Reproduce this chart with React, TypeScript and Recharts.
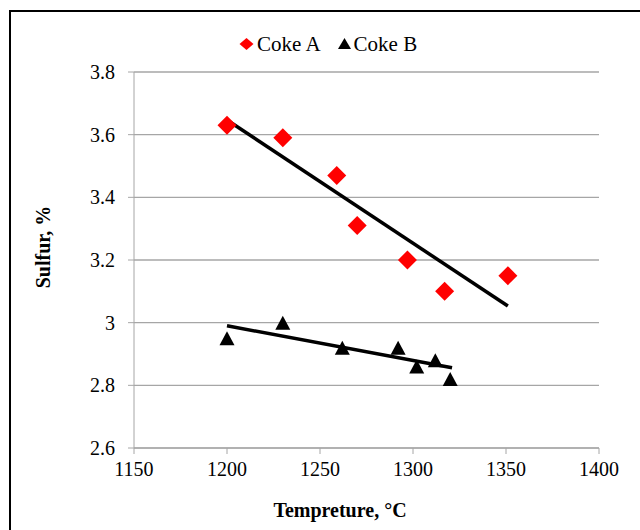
import { ScatterChart, Scatter, XAxis, YAxis, CartesianGrid } from "recharts"

// Coke A (red diamonds)
const cokeATemp = [1200, 1230, 1259, 1270, 1297, 1317, 1351]
const cokeASulfur = [3.63, 3.59, 3.47, 3.31, 3.2, 3.1, 3.15]

// Coke B (black triangles)
const cokeBTemp = [1200, 1230, 1262, 1292, 1302, 1312, 1320]
const cokeBSulfur = [2.95, 3.0, 2.92, 2.92, 2.86, 2.88, 2.82]

// trend line end points
const trendATemp = [1200, 1351]
const trendASulfur = [3.647, 3.053]
const trendBTemp = [1200, 1321]
const trendBSulfur = [2.99, 2.856]

const xTicks = [1150, 1200, 1250, 1300, 1350, 1400]
const yTicks = [2.6, 2.8, 3.0, 3.2, 3.4, 3.6, 3.8]

const toPoints = (xs: number[], ys: number[]) => xs.map((x, i) => ({ x, y: ys[i] }))

const cokeA = toPoints(cokeATemp, cokeASulfur)
const cokeB = toPoints(cokeBTemp, cokeBSulfur)
const trendA = toPoints(trendATemp, trendASulfur)
const trendB = toPoints(trendBTemp, trendBSulfur)

const font = '"Liberation Serif", "Times New Roman", serif'
const grid = "#a6a6a6"

const Diamond = (props: any) => {
  const { cx, cy } = props
  const r = 9.5
  return <polygon points={`${cx},${cy - r} ${cx + r},${cy} ${cx},${cy + r} ${cx - r},${cy}`} fill="#ff0000" />
}

const Triangle = (props: any) => {
  const { cx, cy } = props
  const w = 7.5
  const h = 7
  return <polygon points={`${cx},${cy - h} ${cx + w},${cy + h} ${cx - w},${cy + h}`} fill="#000" />
}

const NoDot = () => <g />

export default function App() {
  return (
    <div style={{ position: "fixed", left: 0, top: 0, width: 640, height: 530, overflow: "hidden", background: "#fff", fontFamily: font }}>
      <div
        style={{
          position: "absolute",
          left: 9,
          top: 10,
          width: 700,
          height: 600,
          borderLeft: "2px solid #000",
          borderTop: "2px solid #000",
        }}
      />
      <div style={{ position: "absolute", left: 0, top: 0 }}>
        <ScatterChart width={640} height={530} margin={{ top: 72, right: 41, bottom: 32, left: 34 }}>
          <CartesianGrid horizontal vertical={false} stroke={grid} strokeWidth={1.3} />
          <XAxis
            type="number"
            dataKey="x"
            domain={[1150, 1400]}
            ticks={xTicks}
            allowDataOverflow
            height={50}
            stroke={grid}
            tickSize={6}
            tickMargin={8}
            tick={{ fill: "#000", fontSize: 20, fontFamily: font }}
            label={{
              content: () => (
                <text x={340} y={517} textAnchor="middle" fontSize={20} fontWeight="bold" fontFamily={font} fill="#000">
                  Tempreture, °C
                </text>
              ),
            }}
          />
          <YAxis
            type="number"
            dataKey="y"
            domain={[2.6, 3.8]}
            ticks={yTicks}
            allowDataOverflow
            width={100}
            stroke={grid}
            tickSize={6}
            tickMargin={13}
            tickFormatter={(v: number) => String(Number(v.toFixed(1)))}
            tick={{ fill: "#000", fontSize: 20, fontFamily: font }}
            label={{
              content: () => (
                <text
                  x={43}
                  y={247}
                  transform="rotate(-90 43 247)"
                  textAnchor="middle"
                  dominantBaseline="central"
                  fontSize={20}
                  fontWeight="bold"
                  fontFamily={font}
                  fill="#000"
                >
                  Sulfur, %
                </text>
              ),
            }}
          />
          <Scatter name="Coke A trend" data={trendA} line={{ stroke: "#000", strokeWidth: 3.5 }} shape={NoDot} isAnimationActive={false} />
          <Scatter name="Coke B trend" data={trendB} line={{ stroke: "#000", strokeWidth: 3.5 }} shape={NoDot} isAnimationActive={false} />
          <Scatter name="Coke A" data={cokeA} shape={Diamond} isAnimationActive={false} />
          <Scatter name="Coke B" data={cokeB} shape={Triangle} isAnimationActive={false} />
        </ScatterChart>
      </div>
      {/* legend */}
      <div style={{ position: "absolute", left: 238, top: 31, display: "flex", alignItems: "center", fontSize: 21, color: "#000", lineHeight: "26px" }}>
        <svg width={17} height={26} style={{ marginRight: 2 }}>
          <polygon points="8.5,7 15.5,13 8.5,19 1.5,13" fill="#ff0000" />
        </svg>
        <span>Coke A</span>
        <svg width={17} height={26} style={{ marginLeft: 15, marginRight: 1 }}>
          <polygon points="8.5,7 15,18 2,18" fill="#000" />
        </svg>
        <span>Coke B</span>
      </div>
    </div>
  )
}
